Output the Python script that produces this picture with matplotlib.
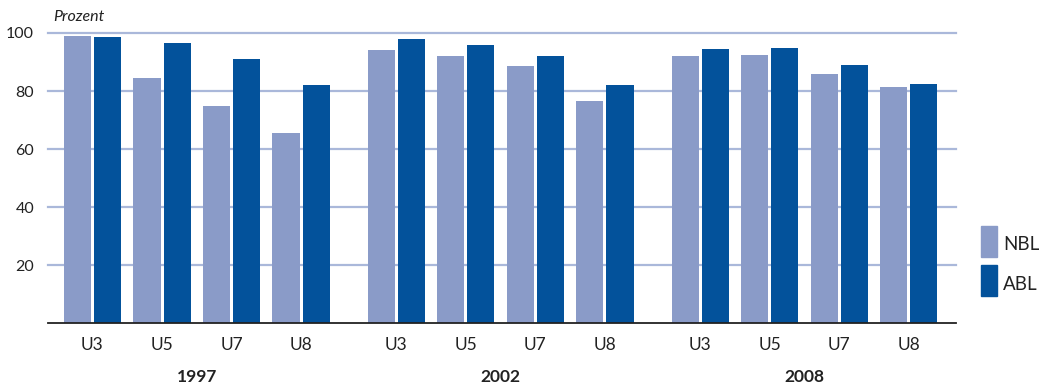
import matplotlib
matplotlib.use("Agg")
import matplotlib.pyplot as plt
import numpy as np
from matplotlib.patches import Rectangle

years = ["1997", "2002", "2008"]
exams = ["U3", "U5", "U7", "U8"]
nbl = [[99, 84.5, 75, 65.5],
       [94, 92, 88.5, 76.5],
       [92, 92.5, 86, 81.5]]
abl = [[98.5, 96.5, 91, 82],
       [98, 96, 92, 82],
       [94.5, 95, 89, 82.5]]
series_names = ["NBL", "ABL"]
yticks = [20, 40, 60, 80, 100]

c_nbl = "#8a9bc8"
c_abl = "#03529b"
grid_c = "#aab8da"

plt.rcParams['font.family'] = ['Lato', 'DejaVu Sans']

fig = plt.figure(figsize=(10.52, 3.83), dpi=100)
ax = fig.add_axes([48/1052, (383-323.3)/383, (956-48)/1052, (323.3-33)/383])

group_step = 4.37
bw = 0.39
gap = 0.043
centers = []
for g, yr in enumerate(years):
    for i, ex in enumerate(exams):
        c = g*group_step + i
        centers.append(c)
        ax.bar(c - gap/2 - bw/2, nbl[g][i], width=bw, color=c_nbl, zorder=3)
        ax.bar(c + gap/2 + bw/2, abl[g][i], width=bw, color=c_abl, zorder=3)

ax.set_xlim(-0.64, 12.42)
ax.set_ylim(0, 100)
for t in yticks:
    ax.axhline(t, color=grid_c, lw=1.6, zorder=1, clip_on=False)
ax.axhline(0, color="#222222", lw=1.3, zorder=4, clip_on=False)

for s in ax.spines.values():
    s.set_visible(False)
ax.set_yticks(yticks)
ax.set_yticklabels([str(t) for t in yticks], fontsize=11.5, color="#222222")
ax.tick_params(axis='y', length=0, pad=10)
ax.set_xticks(centers)
ax.set_xticklabels(exams*len(years), fontsize=12.5, color="#222222")
ax.tick_params(axis='x', length=0, pad=10)

for g, yr in enumerate(years):
    gc = g*group_step + 1.5
    ax.text(gc, -0.185, yr, transform=ax.get_xaxis_transform(), ha='center', va='center',
            fontsize=12.5, fontweight='bold', color="#222222")

fig.text(53/1052, 1-17/383, "Prozent", fontsize=11.5, style='italic', color="#222222",
         ha='left', va='center')

# legend
for k, (name, col) in enumerate(zip(series_names, [c_nbl, c_abl])):
    y0 = 1 - (257 + 39*k)/383
    fig.patches.append(Rectangle((981/1052, y0), 16/1052, 31/383, transform=fig.transFigure,
                                 color=col, figure=fig))
    fig.text(1003/1052, y0 + 12/383, name, fontsize=13.5, color="#222222", ha='left', va='center')

fig.savefig("out.png", dpi=100)
